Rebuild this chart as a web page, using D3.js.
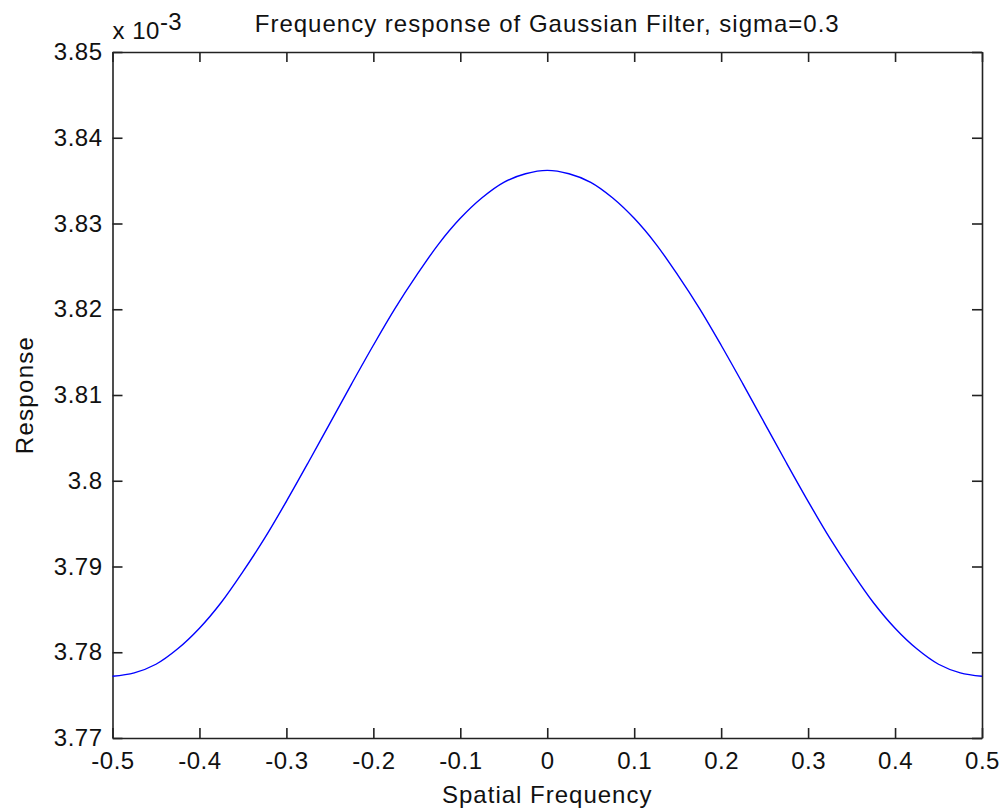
<!DOCTYPE html>
<html>
<head>
<meta charset="utf-8">
<script src="https://cdn.jsdelivr.net/npm/d3@7"></script>
<style>
  html, body { margin: 0; padding: 0; background: #fff; }
  svg { display: block; }
  text { font-family: "Liberation Sans", Arial, sans-serif; fill: #111; }
</style>
</head>
<body>
<svg id="chart" width="1000" height="811"></svg>
<script>
// Data (response values in units of 1e-3)
const freq = [-0.5, -0.475, -0.45, -0.425, -0.4, -0.375, -0.35, -0.325, -0.3, -0.275, -0.25,
              -0.225, -0.2, -0.175, -0.15, -0.125, -0.1, -0.075, -0.05, -0.025, 0,
              0.025, 0.05, 0.075, 0.1, 0.125, 0.15, 0.175, 0.2, 0.225, 0.25,
              0.275, 0.3, 0.325, 0.35, 0.375, 0.4, 0.425, 0.45, 0.475, 0.5];
const response = [3.7772, 3.7776, 3.7786, 3.7804, 3.7828, 3.7858, 3.7894, 3.7933, 3.7976, 3.8021, 3.8067,
                  3.8113, 3.8158, 3.8201, 3.8240, 3.8276, 3.8306, 3.8330, 3.8348, 3.8358, 3.8362,
                  3.8358, 3.8348, 3.8330, 3.8306, 3.8276, 3.8240, 3.8201, 3.8158, 3.8113, 3.8067,
                  3.8021, 3.7976, 3.7933, 3.7894, 3.7858, 3.7828, 3.7804, 3.7786, 3.7776, 3.7772];
const xTicks = [-0.5, -0.4, -0.3, -0.2, -0.1, 0, 0.1, 0.2, 0.3, 0.4, 0.5];
const xTickLabels = ["-0.5", "-0.4", "-0.3", "-0.2", "-0.1", "0", "0.1", "0.2", "0.3", "0.4", "0.5"];
const yTicks = [3.77, 3.78, 3.79, 3.80, 3.81, 3.82, 3.83, 3.84, 3.85];
const yTickLabels = ["3.77", "3.78", "3.79", "3.8", "3.81", "3.82", "3.83", "3.84", "3.85"];
const titleText = "Frequency response of Gaussian Filter, sigma=0.3";
const xLabelText = "Spatial Frequency";
const yLabelText = "Response";

const svg = d3.select("#chart");
const L = 112.5, R = 982, T = 52, B = 738;
const FS = 24;

const x = d3.scaleLinear().domain([-0.5, 0.5]).range([L, R]);
const y = d3.scaleLinear().domain([3.77, 3.85]).range([B, T]);

function styleAxis(g) {
  g.selectAll(".domain").attr("stroke", "#222").attr("stroke-width", 1.6);
  g.selectAll(".tick line").attr("stroke", "#222").attr("stroke-width", 1.6);
  g.selectAll("text").style("font-size", FS + "px").attr("fill", "#111")
    .style("letter-spacing", "0.5px")
    .style("font-family", '"Liberation Sans", Arial, sans-serif');
}

// bottom axis
svg.append("g").attr("transform", `translate(0,${B})`)
  .call(d3.axisBottom(x).tickValues(xTicks).tickFormat((d, i) => xTickLabels[i])
        .tickSizeInner(-10).tickSizeOuter(0).tickPadding(14))
  .call(styleAxis);
// top axis
svg.append("g").attr("transform", `translate(0,${T})`)
  .call(d3.axisTop(x).tickValues(xTicks).tickFormat("")
        .tickSizeInner(-10).tickSizeOuter(0))
  .call(styleAxis);
// left axis
svg.append("g").attr("transform", `translate(${L},0)`)
  .call(d3.axisLeft(y).tickValues(yTicks).tickFormat((d, i) => yTickLabels[i])
        .tickSizeInner(-10).tickSizeOuter(0).tickPadding(10))
  .call(styleAxis);
// right axis
svg.append("g").attr("transform", `translate(${R},0)`)
  .call(d3.axisRight(y).tickValues(yTicks).tickFormat("")
        .tickSizeInner(-10).tickSizeOuter(0))
  .call(styleAxis);

// curve
const line = d3.line()
  .x((d, i) => x(freq[i]))
  .y(d => y(d))
  .curve(d3.curveCatmullRom);
svg.append("path").datum(response)
  .attr("d", line)
  .attr("fill", "none")
  .attr("stroke", "#0000ff")
  .attr("stroke-width", 1.4);

// title
svg.append("text").attr("x", (L + R) / 2).attr("y", 32)
  .attr("text-anchor", "middle").style("font-size", FS + "px")
  .style("letter-spacing", "1px").text(titleText);

// x label
svg.append("text").attr("x", (L + R) / 2).attr("y", 803)
  .attr("text-anchor", "middle").style("font-size", FS + "px")
  .style("letter-spacing", "1px").text(xLabelText);

// y label
svg.append("text").attr("transform", `translate(33,${(T + B) / 2}) rotate(-90)`)
  .attr("text-anchor", "middle").style("font-size", FS + "px")
  .style("letter-spacing", "1.3px").text(yLabelText);

// exponent
const ex = svg.append("text").attr("x", L).attr("y", 39).style("font-size", FS + "px")
  .style("letter-spacing", "0.5px");
ex.append("tspan").text("x 10");
ex.append("tspan").attr("dy", -9).text("-3");
</script>
</body>
</html>
